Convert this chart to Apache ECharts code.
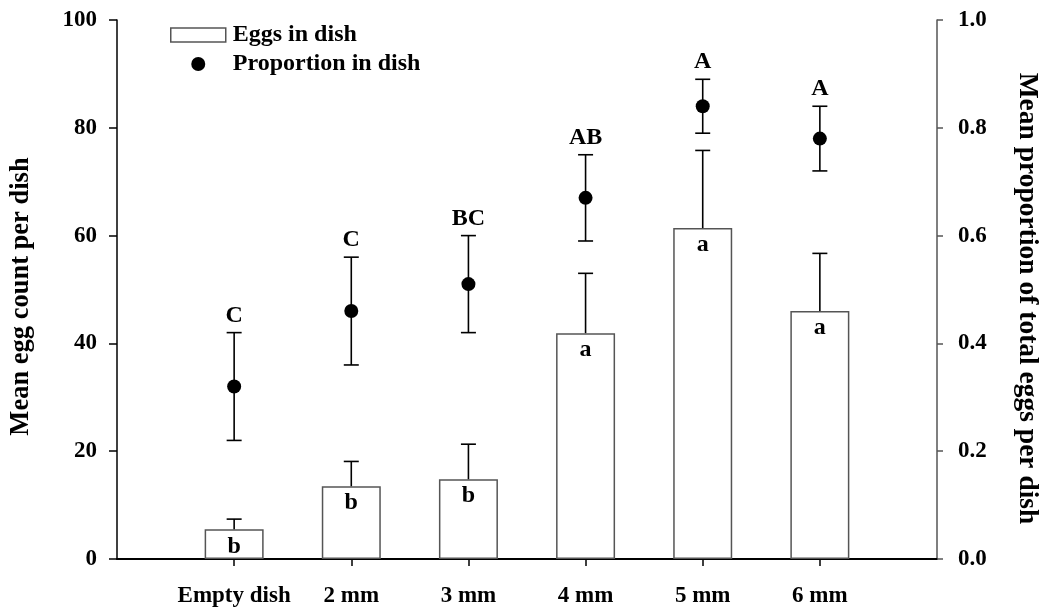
<!DOCTYPE html>
<html>
<head>
<meta charset="utf-8">
<script src="https://cdn.jsdelivr.net/npm/echarts@6/dist/echarts.min.js"></script>
<style>
  html, body { margin: 0; padding: 0; background: #fff; }
  #chart { width: 1047px; height: 614px; }
</style>
</head>
<body>
<div id="chart"></div>
<script>
const categories = ["Empty dish", "2 mm", "3 mm", "4 mm", "5 mm", "6 mm"];
const eggMean = [5.5, 13.5, 14.8, 41.9, 61.4, 46.0];
const eggSE = [1.9, 4.6, 6.5, 11.1, 14.4, 10.7];
const eggLetters = ["b", "b", "b", "a", "a", "a"];
const propMean = [0.32, 0.46, 0.51, 0.67, 0.84, 0.78];
const propSE = [0.10, 0.10, 0.09, 0.08, 0.05, 0.06];
const propLetters = ["C", "C", "BC", "AB", "A", "A"];
const positions = categories.map((_, i) => i + 1);

const font = "'Liberation Serif', 'Times New Roman', serif";
const txt = { fontFamily: font, fontWeight: "bold", color: "#000" };

// error bars (+ letters above) drawn through the axes
function errorBars(both, letters) {
  return function (params, api) {
    const x = api.value(0), m = api.value(1), s = api.value(2);
    const top = api.coord([x, m + s]);
    const bot = api.coord([x, both ? m - s : m]);
    const half = 7.5;
    const st = { stroke: "#000", lineWidth: 1.6 };
    const kids = [
      { type: "line", shape: { x1: top[0], y1: top[1], x2: bot[0], y2: bot[1] }, style: st },
      { type: "line", shape: { x1: top[0] - half, y1: top[1], x2: top[0] + half, y2: top[1] }, style: st }
    ];
    if (both) {
      kids.push({ type: "line", shape: { x1: bot[0] - half, y1: bot[1], x2: bot[0] + half, y2: bot[1] }, style: st });
    }
    if (letters) {
      kids.push({
        type: "text",
        style: { text: letters[params.dataIndex], x: top[0], y: top[1] - 5,
          align: "center", verticalAlign: "bottom", fontSize: 24,
          fontFamily: font, fontWeight: "bold", fill: "#000" }
      });
    }
    return { type: "group", children: kids };
  };
}

const chart = echarts.init(document.getElementById("chart"));
chart.setOption({
  animation: false,
  grid: { left: 117, right: 110, top: 20, bottom: 55, outerBoundsMode: "none" },
  legend: {
    orient: "vertical", left: 165, top: 18,
    itemWidth: 55, itemHeight: 14, itemGap: 5,
    textStyle: Object.assign({ fontSize: 24, padding: [0, 0, 0, 2] }, txt),
    data: [
      { name: "Eggs in dish", icon: "rect", itemStyle: { color: "#fff", borderColor: "#555", borderWidth: 1.5 } },
      { name: "Proportion in dish", icon: "circle", itemStyle: { color: "#000", opacity: 1 } }
    ]
  },
  xAxis: {
    type: "value", min: 0, max: 7, interval: 1,
    splitLine: { show: false },
    axisLine: { lineStyle: { color: "#000", width: 2 } },
    axisTick: { customValues: positions, length: 7, lineStyle: { color: "#000", width: 1.5 } },
    axisLabel: Object.assign({ customValues: positions, fontSize: 23, margin: 26,
      formatter: (v) => categories[v - 1] || "" }, txt)
  },
  yAxis: [
    {
      type: "value", min: 0, max: 100, interval: 20,
      name: "Mean egg count per dish", nameLocation: "middle", nameGap: 82, nameRotate: 90,
      nameTextStyle: Object.assign({ fontSize: 26.5, padding: [0, 14, 0, 0] }, txt),
      splitLine: { show: false },
      axisLine: { show: true, lineStyle: { color: "#000", width: 1.5 } },
      axisTick: { show: true, length: 8, lineStyle: { color: "#000", width: 1.5 } },
      axisLabel: Object.assign({ fontSize: 23, margin: 20 }, txt)
    },
    {
      type: "value", min: 0, max: 1, interval: 0.2, position: "right",
      name: "Mean proportion of total eggs per dish", nameLocation: "middle", nameGap: 76, nameRotate: -90,
      nameTextStyle: Object.assign({ fontSize: 27.5, padding: [0, 0, 0, 18] }, txt),
      splitLine: { show: false },
      axisLine: { show: true, lineStyle: { color: "#555", width: 1.5 } },
      axisTick: { show: true, length: 6, lineStyle: { color: "#555", width: 1.5 } },
      axisLabel: Object.assign({ fontSize: 23, margin: 21, formatter: (v) => v.toFixed(1) }, txt)
    }
  ],
  series: [
    {
      name: "Eggs in dish", type: "bar", barWidth: 59, yAxisIndex: 0,
      itemStyle: { color: "#fff", borderColor: "#555", borderWidth: 1.5 },
      label: Object.assign({ show: true, position: "insideTop", distance: 5, fontSize: 24,
        formatter: (p) => eggLetters[p.dataIndex] }, txt),
      data: positions.map((x, i) => [x, eggMean[i]]),
      z: 2
    },
    {
      name: "eggErr", type: "custom", yAxisIndex: 0,
      renderItem: errorBars(false, null),
      data: positions.map((x, i) => [x, eggMean[i], eggSE[i]]),
      z: 3
    },
    {
      name: "propErr", type: "custom", yAxisIndex: 1,
      renderItem: errorBars(true, propLetters),
      data: positions.map((x, i) => [x, propMean[i], propSE[i]]),
      z: 3
    },
    {
      name: "Proportion in dish", type: "scatter", yAxisIndex: 1,
      symbol: "circle", symbolSize: 14,
      itemStyle: { color: "#000", opacity: 1 },
      data: positions.map((x, i) => [x, propMean[i]]),
      z: 4
    }
  ]
});
</script>
</body>
</html>
